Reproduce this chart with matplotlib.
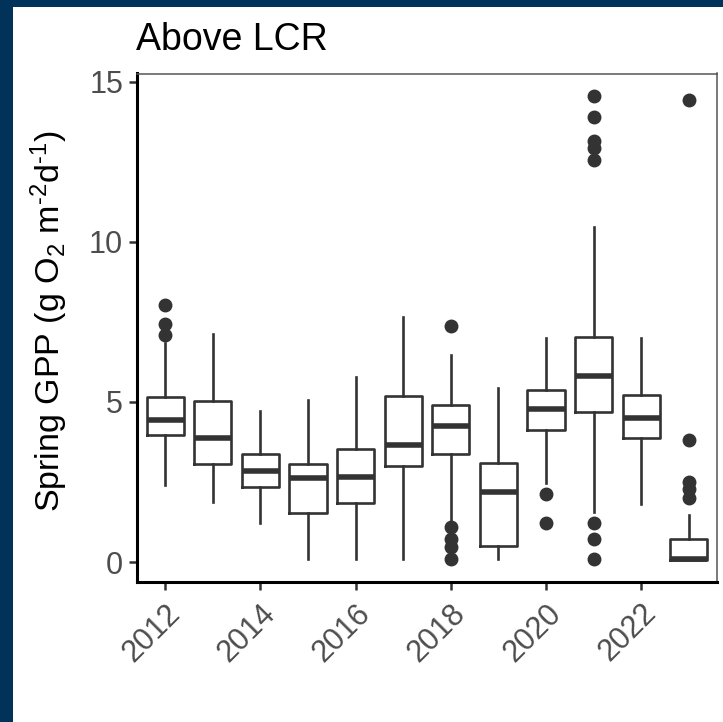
import matplotlib
matplotlib.use("Agg")
import matplotlib.pyplot as plt
from matplotlib.patches import Rectangle

years = [2012, 2013, 2014, 2015, 2016, 2017, 2018, 2019, 2020, 2021, 2022, 2023]
q1 = [3.98, 3.06, 2.35, 1.53, 1.83, 2.99, 3.38, 0.51, 4.14, 4.70, 3.86, 0.06]
med = [4.44, 3.88, 2.85, 2.62, 2.66, 3.67, 4.26, 2.19, 4.79, 5.81, 4.51, 0.10]
q3 = [5.15, 5.04, 3.38, 3.06, 3.52, 5.18, 4.91, 3.08, 5.37, 7.02, 5.23, 0.71]
whis_lo = [2.40, 1.87, 1.21, 0.11, 0.11, 0.11, 1.27, 0.11, 2.48, 1.55, 1.80, 0.06]
whis_hi = [6.83, 7.11, 4.73, 5.05, 5.79, 7.66, 6.48, 5.44, 7.00, 10.48, 7.00, 1.48]
outliers = [
    [8.02, 7.45, 7.08],
    [],
    [],
    [],
    [],
    [],
    [7.37, 1.09, 0.71, 0.48, 0.11],
    [],
    [2.13, 1.21],
    [14.55, 13.91, 13.15, 12.92, 12.57, 1.21, 0.71, 0.11],
    [],
    [14.42, 3.80, 2.50, 2.27, 2.01],
]
x_tick_labels = ["2012", "2014", "2016", "2018", "2020", "2022"]
y_ticks = [0, 5, 10, 15]

plt.rcParams['font.family'] = ['Liberation Sans', 'DejaVu Sans']
plt.rcParams['mathtext.fontset'] = 'custom'
plt.rcParams['mathtext.rm'] = 'Liberation Sans'
plt.rcParams['mathtext.it'] = 'Liberation Sans:italic'
plt.rcParams['mathtext.bf'] = 'Liberation Sans:bold'
plt.rcParams['mathtext.default'] = 'rm'

W, H = 723, 722
fig = plt.figure(figsize=(W / 100, H / 100), dpi=100)
fig.patch.set_facecolor('white')
navy = '#00325A'
fig.patches.append(Rectangle((0, 1 - 7 / H), 1, 7 / H, transform=fig.transFigure,
                             facecolor=navy, edgecolor='none', zorder=0))
fig.patches.append(Rectangle((0, 0), 13 / W, 1, transform=fig.transFigure,
                             facecolor=navy, edgecolor='none', zorder=0))

ax = fig.add_axes([137 / W, 1 - 581.6 / H, (717 - 137) / W, (581.6 - 73.5) / H])

stats = []
for i, y in enumerate(years):
    stats.append(dict(q1=q1[i], med=med[i], q3=q3[i], whislo=whis_lo[i],
                      whishi=whis_hi[i], fliers=outliers[i], label=str(y)))

lc = '#333333'
positions = list(range(1, len(years) + 1))
ax.bxp(stats, positions=positions, widths=0.78, showcaps=False,
       boxprops=dict(color=lc, linewidth=1.9),
       whiskerprops=dict(color=lc, linewidth=1.9),
       medianprops=dict(color=lc, linewidth=4.0, solid_capstyle='butt'),
       flierprops=dict(marker='o', markerfacecolor=lc, markeredgecolor=lc,
                       markersize=9, linestyle='none'))

ax.set_xlim(0.41, 12.59)
ax.set_ylim(-0.61, 15.26)
ax.set_yticks(y_ticks)
ax.set_yticklabels([str(t) for t in y_ticks])
ax.set_xticks(positions[::2])
ax.set_xticklabels(x_tick_labels, rotation=45, ha='right', va='top',
                   rotation_mode='anchor')

ax.tick_params(axis='both', labelsize=22, labelcolor='#4D4D4D', color='#333333',
               length=6, width=1.8, pad=4)
ax.tick_params(axis='x', pad=6)

for s in ['left', 'bottom']:
    ax.spines[s].set_color('black')
    ax.spines[s].set_linewidth(2.2)
for s in ['top', 'right']:
    ax.spines[s].set_color('#555555')
    ax.spines[s].set_linewidth(1.1)

fig.text(49 / W, 1 - 321 / H, r'Spring GPP (g O$_2$ m$^{\text{-2}}$d$^{\text{-1}}$)',
         fontsize=24.5, color='black', rotation=90, ha='center', va='center')
fig.text(136 / W, 1 - 50 / H, 'Above LCR', fontsize=27, color='black',
         ha='left', va='baseline')

fig.savefig('out.png', dpi=100, facecolor='white')
